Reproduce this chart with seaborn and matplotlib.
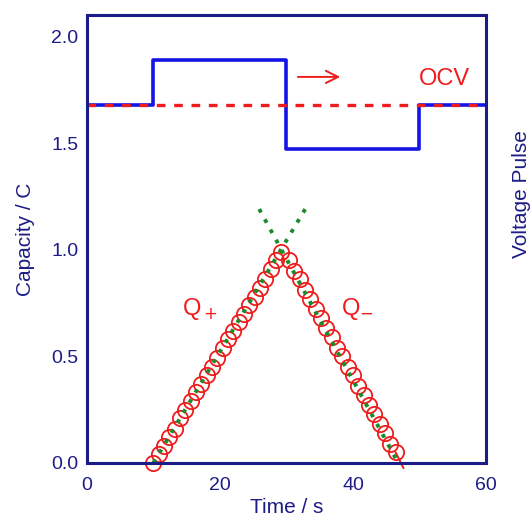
import numpy as np
import matplotlib
matplotlib.use("Agg")
import matplotlib.pyplot as plt
import seaborn as sns

# voltage pulse (drawn in capacity units, steps)
pulse_t = [0, 10, 30, 50, 60]
pulse_v = [1.68, 1.89, 1.47, 1.68, 1.68]
ocv_t = [0, 60]
ocv_v = [1.68, 1.68]

# charge during positive pulse
qp_t = [10.0, 10.8, 11.6, 12.4, 13.2, 14.0, 14.8, 15.6, 16.4, 17.2, 18.0, 18.8, 19.6,
        20.4, 21.2, 22.0, 22.8, 23.6, 24.4, 25.2, 26.0, 26.8, 27.6, 28.4, 29.2]
qp_c = [0.00, 0.04, 0.08, 0.12, 0.16, 0.21, 0.25, 0.29, 0.33, 0.37, 0.41, 0.45, 0.49,
        0.54, 0.58, 0.62, 0.66, 0.70, 0.74, 0.78, 0.82, 0.86, 0.91, 0.95, 0.99]

# charge during negative pulse
qm_t = [30.4, 31.2, 32.0, 32.8, 33.6, 34.4, 35.2, 36.0, 36.8, 37.6, 38.4, 39.2, 40.0,
        40.8, 41.6, 42.4, 43.2, 44.0, 44.8, 45.6, 46.4]
qm_c = [0.95, 0.90, 0.86, 0.81, 0.77, 0.72, 0.68, 0.63, 0.59, 0.54, 0.50, 0.45, 0.41,
        0.36, 0.32, 0.27, 0.23, 0.18, 0.14, 0.09, 0.05]
qm_tail_t = [46.4, 47.6]
qm_tail_c = [0.05, -0.025]

# linear fits
fit1_t = [10.0, 33.2]
fit1_c = [0.0, 1.21]
fit2_t = [25.9, 46.8]
fit2_c = [1.19, 0.0]

x_ticks = [0, 20, 40, 60]
y_ticks = [0.0, 0.5, 1.0, 1.5, 2.0]

navy = "#1c1c86"
blue = "#1414e6"
red = "#ee1c1c"
green = "#1a8a2a"

sns.set_style("white")
plt.rcParams['font.family'] = ['Liberation Sans', 'DejaVu Sans']

fig = plt.figure(figsize=(5.3, 5.2), dpi=100)
ax = fig.add_axes([0.164, 0.110, 0.753, 0.861])

sns.lineplot(x=pulse_t, y=pulse_v, ax=ax, color=blue, lw=2.6, drawstyle='steps-post',
             sort=False, estimator=None)
ax.plot(ocv_t, ocv_v, color=red, lw=2.4, ls=(0, (2.6, 2.6)))

ax.plot(qm_tail_t, qm_tail_c, color=red, lw=1.4, clip_on=False)
ax.plot(qp_t, qp_c, 'o', ms=11, mfc='none', mec=red, mew=1.3, clip_on=False)
ax.plot(qm_t, qm_c, 'o', ms=11, mfc='none', mec=red, mew=1.3, clip_on=False)
ax.plot(fit1_t, fit1_c, color=green, lw=2.8, ls=(0, (1, 2)))
ax.plot(fit2_t, fit2_c, color=green, lw=2.8, ls=(0, (1, 2)))

ax.annotate("", xy=(38.5, 1.81), xytext=(31.3, 1.81),
            arrowprops=dict(arrowstyle='->', color=red, lw=1.4, mutation_scale=22))
ax.text(53.7, 1.80, "OCV", color=red, fontsize=17, ha='center', va='center')
ax.text(17.0, 0.72, "Q$_+$", color=red, fontsize=17, ha='center', va='center')
ax.text(40.7, 0.72, "Q$_{-}$", color=red, fontsize=17, ha='center', va='center')

ax.set_xlim(0, 60)
ax.set_ylim(0, 2.1)
ax.set_xticks(x_ticks)
ax.set_xticklabels([str(v) for v in x_ticks])
ax.set_yticks(y_ticks)
ax.set_yticklabels([f"{v:.1f}" for v in y_ticks])
ax.tick_params(direction='in', length=7, width=2, colors=navy, labelsize=14,
               labelcolor=navy)
ax.tick_params(axis='x', pad=10)
ax.tick_params(axis='y', pad=6)
for s in ax.spines.values():
    s.set_color(navy)
    s.set_linewidth(2.2)
    s.set_visible(True)

ax.set_xlabel("Time / s", color=navy, fontsize=15, labelpad=3)
ax.set_ylabel("Capacity / C", color=navy, fontsize=15, labelpad=12)
fig.text(0.984, 0.627, "Voltage Pulse", rotation=90, color=navy, fontsize=15,
         ha='center', va='center')

fig.savefig("out.png", dpi=100)
